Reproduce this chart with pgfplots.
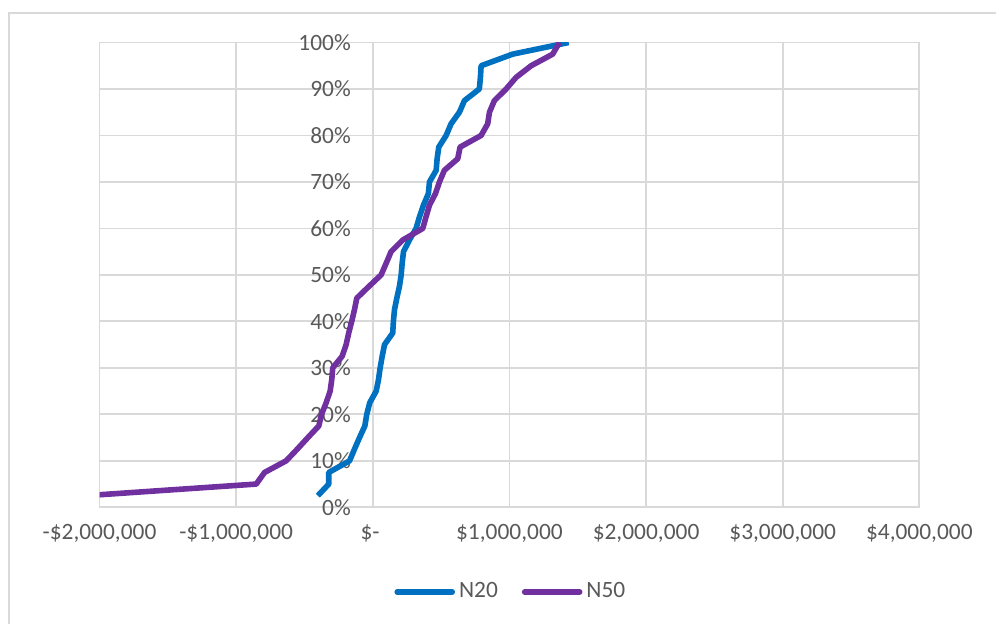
\documentclass[border=0pt]{standalone}
\usepackage{pgfplots}
\pgfplotsset{compat=1.18}
\usepackage{fontspec}
\setmainfont{Carlito}
\definecolor{gridc}{HTML}{D9D9D9}
\definecolor{txt}{HTML}{595959}
\definecolor{cblue}{HTML}{0070C0}
\definecolor{cpurple}{HTML}{7030A0}
\pgfplotstableread{
x p
-402000 2.5
-322000 5
-322000 7.5
-170000 10
-134000 12.5
-97000 15
-58000 17.5
-44000 20
-22000 22.5
25000 25
42000 27.5
54000 30
69000 32.5
86000 35
146000 37.5
151000 40
159000 42.5
176000 45
195000 47.5
208000 50
215000 52.5
225000 55
268000 57.5
317000 60
342000 62.5
371000 65
407000 67.5
415000 70
464000 72.5
471000 75
483000 77.5
537000 80
573000 82.5
634000 85
671000 87.5
780000 90
788000 92.5
793000 95
1024000 97.5
1434000 100
}\tnA
\pgfplotstableread{
x p
-2100000 2.5
-853000 5
-792000 7.5
-634000 10
-553000 12.5
-475000 15
-395000 17.5
-375000 20
-341000 22.5
-312000 25
-300000 27.5
-293000 30
-224000 32.5
-195000 35
-176000 37.5
-154000 40
-134000 42.5
-117000 45
-29000 47.5
61000 50
98000 52.5
134000 55
219000 57.5
366000 60
390000 62.5
415000 65
459000 67.5
488000 70
524000 72.5
622000 75
639000 77.5
793000 80
841000 82.5
854000 85
890000 87.5
976000 90
1049000 92.5
1159000 95
1317000 97.5
1366000 100
}\tnB
\begin{document}
\begin{tikzpicture}
\useasboundingbox (0pt,0pt) rectangle (498pt,311.5pt);
\begin{scope}
\clip (0pt,0pt) rectangle (498pt,311.5pt);
\draw[gridc, line width=0.9pt] (4.5pt,-50pt) -- (4.5pt,305pt) -- (550pt,305pt);
\end{scope}
\begin{axis}[
  at={(49.75pt,57.85pt)}, anchor=south west,
  scale only axis,
  width=409.9pt, height=232.4pt,
  xmin=-2000000, xmax=4000000,
  ymin=0, ymax=100,
  scaled x ticks=false,
  xtick={-2000000,-1000000,0,1000000,2000000,3000000,4000000},
  xticklabels={{-\$2,000,000},{-\$1,000,000},{\$-\ \ },{\$1,000,000},{\$2,000,000},{\$3,000,000},{\$4,000,000}},
  ytick={0,10,...,100},
  yticklabels={0\%,10\%,20\%,30\%,40\%,50\%,60\%,70\%,80\%,90\%,100\%},
  major tick length=0pt,
  grid=major,
  major grid style={draw=gridc, line width=0.9pt},
  axis line style={draw=gridc, line width=0.9pt},
  tick label style={font=\fontsize{11.7}{14}\selectfont, text=txt},
  yticklabel style={xshift=129.15pt},
  xticklabel style={yshift=-5pt},
  /pgf/number format/assume math mode=true,
  legend columns=2,
  legend style={draw=none, fill=none, at={(0.503,-0.182)}, anchor=center,
    font=\fontsize{11.7}{14}\selectfont, text=txt,
    /tikz/every even column/.append style={column sep=10pt}},
  legend cell align=left,
  legend image code/.code={\draw[#1, line cap=round] (0pt,0pt) -- (27.5pt,0pt);},
]
\addplot[cblue, line width=2.8pt, line join=round] table[x=x,y=p] {\tnA};
\addlegendentry{N20}
\addplot[cpurple, line width=2.8pt, line join=round] table[x=x,y=p] {\tnB};
\addlegendentry{N50}
\end{axis}
\end{tikzpicture}
\end{document}
